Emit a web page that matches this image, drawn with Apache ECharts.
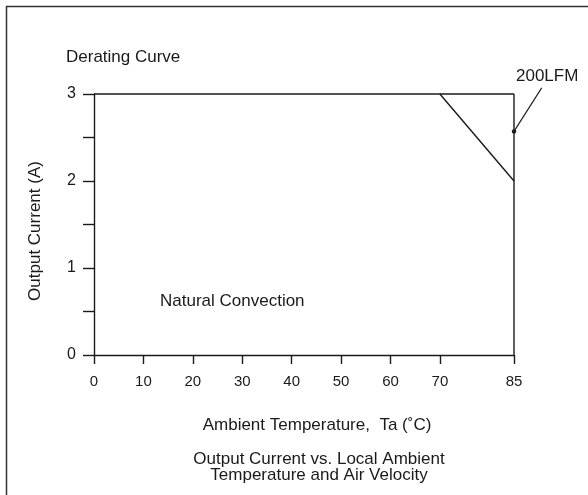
<!DOCTYPE html>
<html>
<head>
<meta charset="utf-8">
<script src="https://cdn.jsdelivr.net/npm/echarts@6/dist/echarts.min.js"></script>
<style>html,body{margin:0;padding:0;background:#fff}#c{width:588px;height:495px}</style>
</head>
<body>
<div id="c"></div>
<script>
var xTicks = [0, 10, 20, 30, 40, 50, 60, 70, 85];
var yTicks = [0, 0.5, 1, 1.5, 2, 2.5, 3];
var lfm200 = [[0, 3], [85, 3]];
var naturalConvection = [[70, 3], [85, 2]];
var rightEdge = [[85, 0], [85, 3]];
var leader = [[90.6, 3.07], [85, 2.57]];
var leaderDot = [[85, 2.57]];

var FONT = '"Liberation Sans", Arial, Helvetica, sans-serif';
var INK = '#1a1a1a';
var chart = echarts.init(document.getElementById('c'), null, {renderer: 'canvas'});
var lineStyle = {color: INK, width: 1.4};
chart.setOption({
  animation: false,
  backgroundColor: '#fff',
  grid: {left: 94, top: 94, right: 74, bottom: 140, containLabel: false},
  xAxis: {
    type: 'value', min: 0, max: 85,
    axisLine: {show: true, onZero: false, lineStyle: {color: INK, width: 1.4}},
    axisTick: {show: true, length: 9, lineStyle: {color: INK, width: 1.4}, customValues: xTicks},
    axisLabel: {color: INK, fontSize: 15, fontFamily: FONT, margin: 19, customValues: xTicks},
    splitLine: {show: false}
  },
  yAxis: {
    type: 'value', min: 0, max: 3, interval: 0.5,
    axisLine: {show: true, onZero: false, lineStyle: {color: INK, width: 1.4}},
    axisTick: {show: true, length: 11, lineStyle: {color: INK, width: 1.4}},
    axisLabel: {color: INK, fontSize: 16, fontFamily: FONT, margin: 18,
      formatter: function (v) { return Number.isInteger(v) ? String(v) : ''; }},
    splitLine: {show: false}
  },
  series: [
    {type: 'line', name: '200LFM', data: lfm200, symbol: 'none', clip: false, lineStyle: lineStyle},
    {type: 'line', name: 'Natural Convection', data: naturalConvection, symbol: 'none', clip: false, lineStyle: lineStyle},
    {type: 'line', data: rightEdge, symbol: 'none', clip: false, lineStyle: lineStyle},
    {
      type: 'custom', clip: false, data: [0],
      renderItem: function (params, api) {
        var a = api.coord(leader[0]);
        var b = api.coord(leader[1]);
        var d = api.coord(leaderDot[0]);
        return {
          type: 'group',
          children: [
            {type: 'line', shape: {x1: a[0], y1: a[1], x2: b[0], y2: b[1]}, style: {stroke: INK, lineWidth: 1.1}},
            {type: 'circle', shape: {cx: d[0], cy: d[1], r: 2.2}, style: {fill: INK}}
          ]
        };
      }
    }
  ],
  graphic: [
    {type: 'rect', shape: {x: 6.5, y: 6.5, width: 700, height: 700}, style: {fill: 'none', stroke: '#333', lineWidth: 1.5}, silent: true},
    {type: 'text', x: 66, y: 57, style: {text: 'Derating Curve', font: '17px ' + FONT, fill: INK, verticalAlign: 'middle'}},
    {type: 'text', x: 516, y: 76, style: {text: '200LFM', font: '17px ' + FONT, fill: INK, verticalAlign: 'middle'}},
    {type: 'text', x: 160, y: 301, style: {text: 'Natural Convection', font: '17px ' + FONT, fill: INK, verticalAlign: 'middle'}},
    {type: 'text', x: 35, y: 231, rotation: Math.PI / 2, style: {text: 'Output Current (A)', font: '17px ' + FONT, fill: INK, align: 'center', verticalAlign: 'middle'}},
    {type: 'text', x: 317, y: 425, style: {text: 'Ambient Temperature,  Ta (\u02DAC)', font: '17px ' + FONT, fill: INK, align: 'center', verticalAlign: 'middle'}},
    {type: 'text', x: 319, y: 467, style: {text: 'Output Current vs. Local Ambient\nTemperature and Air Velocity', font: '17px ' + FONT, fill: INK, align: 'center', verticalAlign: 'middle', lineHeight: 16}}
  ]
});
</script>
</body>
</html>
